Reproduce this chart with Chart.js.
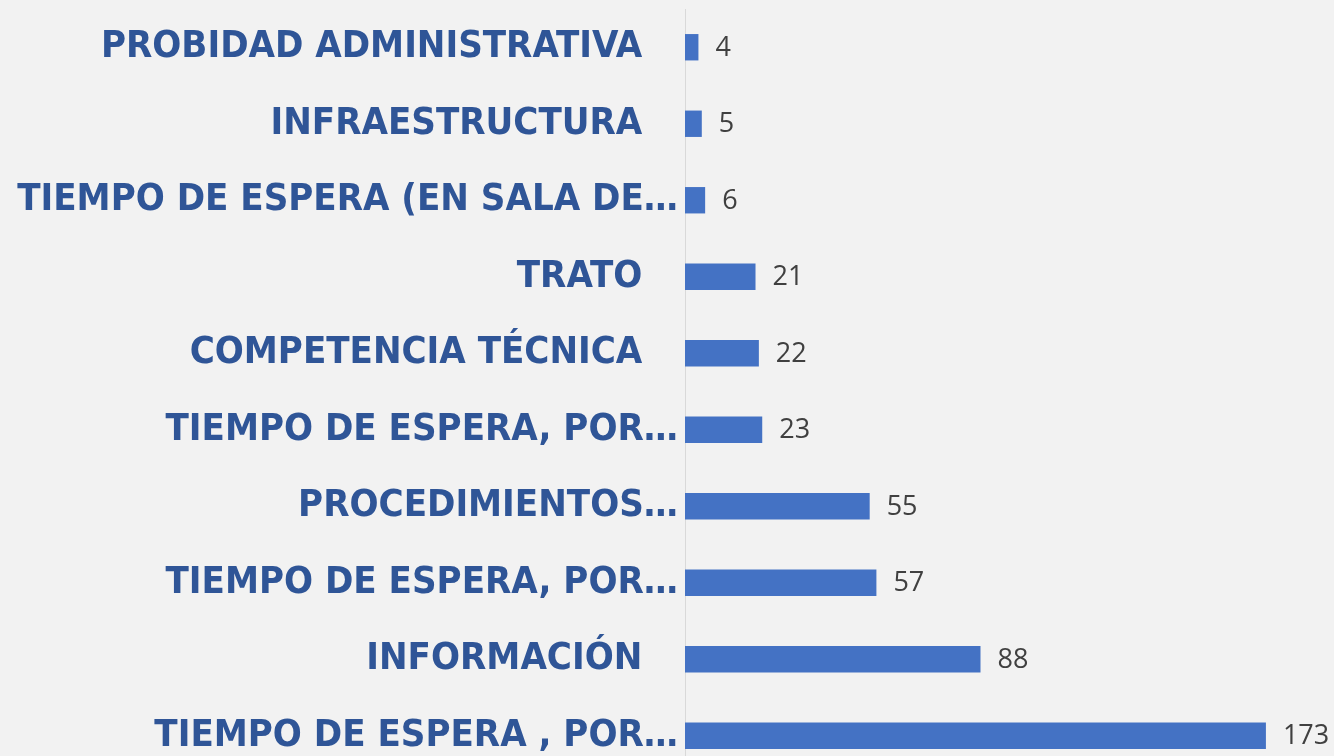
<!DOCTYPE html>
<html>
<head>
<meta charset="utf-8">
<script src="https://cdn.jsdelivr.net/npm/chart.js@4"></script>
<style>
  html, body { margin: 0; padding: 0; background: #f2f2f2; overflow: hidden; }
  #wrap { position: relative; width: 1334px; height: 774px; }
</style>
</head>
<body>
<div id="wrap"><canvas id="reclamos_chart"></canvas></div>
<script>
// categorias (de arriba hacia abajo)
const categorias = [
  "PROBIDAD ADMINISTRATIVA   ",
  "INFRAESTRUCTURA   ",
  "TIEMPO DE ESPERA (EN SALA DE…",
  "TRATO   ",
  "COMPETENCIA TÉCNICA   ",
  "TIEMPO DE ESPERA, POR…",
  "PROCEDIMIENTOS…",
  "TIEMPO DE ESPERA, POR…",
  "INFORMACIÓN   ",
  "TIEMPO DE ESPERA , POR…",
];
// cantidad de reclamos
const cantidades = [4, 5, 6, 21, 22, 23, 55, 57, 88, 173];

// etiquetas de valor al final de cada barra
const valueLabels = {
  id: "valueLabels",
  afterDatasetsDraw(chart) {
    const ctx = chart.ctx;
    const meta = chart.getDatasetMeta(0);
    ctx.save();
    ctx.font = "27px 'Open Sans', 'Noto Sans', sans-serif";
    ctx.fillStyle = "#404040";
    ctx.textAlign = "left";
    ctx.textBaseline = "middle";
    meta.data.forEach((bar, i) => {
      ctx.fillText(String(cantidades[i]), bar.x + 17, bar.y + 1);
    });
    ctx.restore();
  },
};

const ctx_reclamos = document.getElementById("reclamos_chart").getContext("2d");
let chart = new Chart(ctx_reclamos, {
  type: "bar",
  data: {
    labels: categorias,
    datasets: [
      {
        data: cantidades,
        backgroundColor: "#4472c4",
        borderWidth: 0,
        categoryPercentage: 1,
        barPercentage: 0.345,
      },
    ],
  },
  options: {
    indexAxis: "y",
    responsive: true,
    maintainAspectRatio: false,
    animation: false,
    layout: { padding: { top: 9, bottom: 0, left: 0, right: 11 } },
    plugins: {
      legend: { display: false },
      tooltip: { enabled: false },
    },
    scales: {
      x: {
        display: false,
        min: 0,
        max: 190,
      },
      y: {
        afterFit: (s) => {
          s.width = 685;
          s.paddingTop = 0;
          s.paddingBottom = 0;
        },
        grid: { display: false, drawTicks: false },
        border: { display: true, color: "#d9d9d9", width: 1 },
        ticks: {
          padding: 7,
          color: "#2f5597",
          autoSkip: false,
          font: {
            family: "'DejaVu Sans Condensed', 'Liberation Sans Narrow', sans-serif",
            weight: "bold",
            size: 38,
          },
        },
      },
    },
  },
  plugins: [valueLabels],
});
</script>
</body>
</html>
